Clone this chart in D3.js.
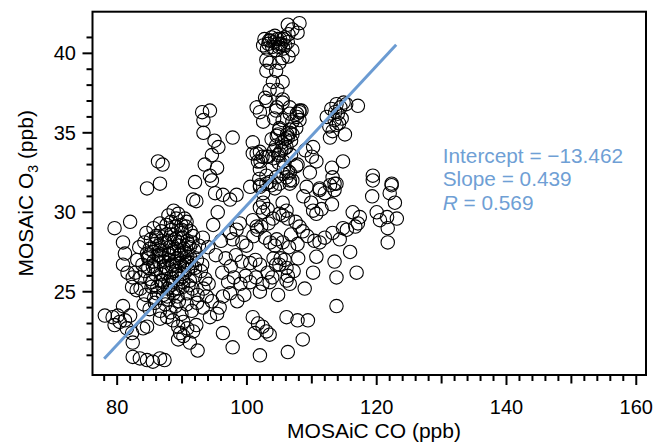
<!DOCTYPE html>
<html><head><meta charset="utf-8">
<script src="https://cdn.jsdelivr.net/npm/d3@7"></script>
<style>body{margin:0;background:#fff}svg{display:block}text{font-family:"Liberation Sans",Arial,sans-serif}</style>
</head><body>
<script>
// CO (ppb) values
const coValues = [
// low-left cluster and bottom row
78.1,79.6,80.1,81.2,80.9,82,81.5,82.3,82.4,84,79.3,80.4,84.6,
82.4,83.5,84.6,85.5,86.6,87.3,
// left column
79.6,82,80.9,81.2,80.9,81.6,82.4,82.3,83,84.6,86.3,87,86.6,
// main dense cluster
87.9,89.4,90.4,86.6,88.7,
84.5,85.6,86.8,87.6,88.3,89.1,89.9,90.6,91.3,88.9,90.1,91.7,86.1,
83.4,84.2,85,85.8,86.6,87.4,88.1,88.8,89.5,90.3,91,91.9,92.6,84.6,86.2,87.9,89.8,90.8,
83.1,83.9,84.8,85.5,86.4,87.2,88,88.6,89.3,90,90.7,91.5,92.3,93.1,86.9,89.7,
82.8,83.6,84.3,85.1,85.9,86.7,87.5,88.3,89,89.6,90.4,91.2,92,92.9,93.6,84.8,87.9,90.9,
83.6,84.4,85.3,86.1,86.9,87.7,88.6,89.3,90.1,90.8,91.6,92.4,93.3,94.1,85.7,88.2,
84.1,85,85.8,86.6,87.4,88.2,89,89.9,90.7,91.5,92.3,93.2,94.6,93.8,
86.6,87.7,88.6,89.4,90.2,91.7,89.7,90.2,89.4,91.2,92.4,92.2,90.8,
85.2,86,86.8,87.6,88.4,89.2,90,90.8,91.6,
85.6,86.4,87.2,88,88.8,89.6,90.4,91.2,
84.8,85.6,86.4,87.2,88,88.8,89.6,90.4,91.2,92,
86,86.8,87.6,88.4,89.2,90,90.8,
85.4,86.2,87,87.8,88.6,89.4,90.2,91,
88.3,89.1,89.9,90.7,
87.1,87.9,88.7,89.5,
// right of main cluster
93.2,94,97.4,98.4,97.8,100.9,101.5,95.1,96.3,97.4,98.4,95.5,94.8,96,95.2,96.7,97.5,98.3,99.2,98.9,99.3,99.9,100.5,101.3,102,96.2,97.1,98,99,99.8,100.5,101.4,102,104.8,96.3,97.4,95.4,95.8,94.3,96.3,97.8,98.5,99.6,
// low middle
100.9,101.7,102.4,101.2,103,103.5,106.1,107.8,109.4,108.6,102,106.3,113.8,
// below column
102,103,104.3,102,102.5,102.5,105.5,106.1,102.5,103.8,106.6,109.2,103.2,104,103.3,102.2,101.6,101,102.8,103.6,104.6,105.5,106.8,105,105.5,106.3,107.5,108.1,108.6,109.3,107.8,106.5,105.2,105.8,105,106.1,106.3,106.1,106.6,104.1,104.5,103.2,103.9,103.5,102.4,107.9,107.2,104.3,108.9,110.2,110.7,113.5,113.8,115.9,116.9,
// right scatter
111.2,112,112.8,113.5,113.8,113.1,119.3,119.4,122.3,122,122.8,120,120.5,121.6,123.1,121.7,121.7,116.3,117.4,117.1,116.7,115.4,114.8,113.2,114.3,110.4,111.2,112,110.7,111.5,109.9,111.2,113.1,113.2,113.5,109.7,119.4,122.3,114.8,108.7,110.2,
// vertical column
106.3,108.1,107.8,107,102.7,103.3,103.8,104.2,104.7,105.2,105.8,106.3,103.1,104.4,105.6,107,103,103.5,105,105.5,106.4,103,104.5,104,105.5,103.5,104.7,103,105.5,106.6,104.5,102,102.5,104.2,106.6,107.7,108.1,108.4,105,106.6,107.6,104.8,106.3,106.8,100.9,104.5,105.3,106.1,106.8,104.1,105.6,102,102.1,103.3,109,110.2,110,110.7,107.6,106.3,101.9,103,104.5,105.6,106.6,104.8,105.9,
102.5,103.6,104.9,105.9,102.8,101.5,105.5,104.6,107.7,108.1,105.5,107,108.1,105,106.6,107,
100.5,102,103.5,105,106.1,107,101.5,101.7,103,107.8,106.6,100.9,102.4,102,
103.8,104.6,105.4,106.2,104.2,105,105.8,104.9,105.7,103.4,104.3,105.1,103.9,104.8,105.6,106.4,
// cluster near 114
112.3,113,113.8,114.4,114.9,115.3,114,113.5,112.7,113.8,114.6,113.2,117.1,115.1,112.8,114.2,113.6,
// left of column
93.1,94.3,93.3,93.3,95,95.6,97.8,94.6,93.5,95.4,94.3,94.6,92,91.7,92.2
];
// O3 (ppb) values
const o3Values = [
23.5,22.9,23.5,23.2,24.1,23.5,22.7,22.4,21.8,22.7,23.4,23.1,22.8,
20.9,20.8,20.7,20.6,20.8,20.7,
29,29.4,28.1,27.4,26.7,26.2,25.9,25.3,25.1,31.5,33.2,33,31.8,
29.8,29.9,29.6,29.3,30.1,
28.7,29,28.8,29.2,28.6,29.1,28.9,29.1,28.8,28.3,28.4,28.5,28.4,
27.8,28.1,27.7,28,27.6,28.1,27.8,27.5,27.9,27.7,28,27.6,27.9,27.4,27.3,27.3,27.4,27.2,
27,26.7,27.1,26.6,26.9,26.6,27,26.7,27.1,26.6,26.9,26.6,27,26.7,27.2,26.8,
26.2,25.9,26.3,25.8,26.1,25.7,26.2,25.9,26.3,25.8,26.2,25.7,26,26.3,25.8,26.5,25.6,26.4,
25.2,24.8,25.3,24.9,25.4,24.7,25.1,24.7,25.3,24.9,25.2,24.8,25.2,25.5,24.6,25.4,
24.2,23.9,24.3,23.8,24.2,23.7,24.1,23.6,24.2,23.8,24.3,24,24.4,24.7,
23.3,23.4,23.2,22.8,23.1,22.5,22.4,22.2,22,21.8,21.3,22.9,22.7,
28.3,28.5,28.2,28.6,28.9,28.4,28.7,28.2,28.1,
27.5,27.9,27.6,28.2,27.7,28.1,27.5,27.8,
27.2,26.9,27.3,26.9,27.4,26.9,27.3,26.7,27.2,26.5,
26.4,26.1,26.5,26.6,26.1,25.9,26.8,
25.6,25.3,25.7,25.2,25.6,25.2,25.6,25.4,
29.4,29.6,29.2,29.4,
24.8,24.5,24.9,24.4,
28.4,27.8,28.7,28.9,28.3,29.5,29.1,31.2,31.1,30.8,31.1,30,29.2,28.2,27.3,27.1,26.6,27.3,26.9,29.3,28.1,27.9,26.8,27,26.7,26.2,25.6,25.9,25.5,26,25.6,25.9,25,24.8,24.7,24.9,23.6,24,23.4,22.4,21.5,24.4,24.8,
23.4,23,22.8,22.4,22.5,22.3,23.4,23.2,23.2,22,21,21.2,24.1,
31.6,31.8,31.5,30.3,30,30.6,30.6,30.1,31.2,31.7,31.8,31.6,30.2,29.6,29.3,29.1,28.9,28.5,28.4,28.1,28.3,28.1,28.6,29.9,29.8,29.6,29.4,29.1,28.8,28.5,28,27.8,27.1,27,26.7,26.5,26,25.7,25.5,27.1,26.7,26.2,25.9,25.6,25.5,27.1,26.3,27.9,25.2,26.2,27.2,26.9,25.9,27.5,26.2,
31.4,31.2,31.7,31.4,31.8,30.5,31,32,31.7,31.2,30.6,30,29.5,29.7,29.6,29,28.1,30,29.7,29.3,29.1,28.9,29,28.7,28.3,28.2,28.1,28.4,29.9,30.2,30.6,31.5,32.8,32.2,31.8,32.5,32.3,31.8,33.2,31,30.1,
41.8,41.9,41.3,41.5,40.9,40.6,41,40.7,40.9,40.6,41,40.7,40.3,40.2,40.3,40.2,39.6,39.4,39.4,39.7,39.8,38.9,38.9,38.2,38.2,37.7,37.7,37,36.9,36.6,36.4,36.3,35.7,35.9,36.2,36,36.3,36.4,35.3,35.2,35.3,34.9,34.7,34.5,34.4,34.2,33.9,34.1,33.6,33.4,33.2,33.8,33.2,33.5,33.9,34.1,33.5,33.2,32.9,32.6,32.1,32.3,32.2,32.4,32,33.6,34.6,
40.5,40.8,40.4,40.5,37.2,36.6,37.1,36.6,36.2,36.4,35.8,35.7,35.8,35.2,35,34.9,
31.6,31.7,31.9,31.8,32.2,32,33.7,33.2,33.5,33,32.5,33.7,33.5,32.7,
34.6,34.8,34.4,34.9,33.9,33.7,34,33.1,32.8,40.8,41.1,40.9,40.4,40.6,40.9,41.2,
36,36.5,36.8,36.6,36.9,36.8,36.2,35.8,35.4,35.5,35.9,35.1,36.7,34.9,34.7,35.6,36.3,
36.3,36.4,35.8,35,34.5,34.1,34.7,33.6,33,32.8,32.3,32,31.9,30.8,30.7
];
const xTickLabels = [80, 100, 120, 140, 160];
const yTickLabels = [25, 30, 35, 40];
const fit = {intercept: -13.462, slope: 0.439, r: 0.569, xStart: 78, xEnd: 123};
const statLines = ["Intercept = \u221213.462", "Slope = 0.439", "R = 0.569"];

const W = 655, H = 444;
const L = 92.5, R = 646, T = 11.7, B = 375;
const svg = d3.select("body").append("svg").attr("width", W).attr("height", H);
const x = d3.scaleLinear().domain([76.2, 161.5]).range([L, R]);
const y = d3.scaleLinear().domain([19.76, 42.62]).range([B, T]);

const n = Math.min(coValues.length, o3Values.length);
const pts = d3.range(n).map(i => [coValues[i], o3Values[i]]);
svg.append("g").selectAll("circle").data(pts).join("circle")
  .attr("cx", d => x(d[0])).attr("cy", d => y(d[1])).attr("r", 6.7)
  .attr("fill", "none").attr("stroke", "#000").attr("stroke-width", 1.1);

// fit line
svg.append("line")
  .attr("x1", x(fit.xStart)).attr("y1", y(fit.intercept + fit.slope * fit.xStart))
  .attr("x2", x(fit.xEnd)).attr("y2", y(fit.intercept + fit.slope * fit.xEnd))
  .attr("stroke", "#6b9bd2").attr("stroke-width", 3);

// frame
svg.append("rect").attr("x", L).attr("y", T).attr("width", R - L).attr("height", B - T)
  .attr("fill", "none").attr("stroke", "#000").attr("stroke-width", 2);

// bottom axis
const xMinor = d3.range(78, 161, 2);
const gx = svg.append("g").attr("transform", `translate(0,${B})`);
gx.selectAll("line").data(xMinor).join("line")
  .attr("x1", d => x(d)).attr("x2", d => x(d)).attr("y1", 0)
  .attr("y2", d => d % 20 === 0 ? 10 : (d % 10 === 0 ? 8.5 : 6))
  .attr("stroke", "#000").attr("stroke-width", 2);
gx.selectAll("text").data(xTickLabels).join("text")
  .attr("x", d => x(d)).attr("y", 38.5).attr("text-anchor", "middle")
  .attr("font-size", 20).text(d => d);

// left axis
const yMinor = d3.range(21, 42, 1);
const gy = svg.append("g").attr("transform", `translate(${L},0)`);
gy.selectAll("line").data(yMinor).join("line")
  .attr("y1", d => y(d)).attr("y2", d => y(d)).attr("x1", 0)
  .attr("x2", d => d % 5 === 0 ? -10 : -6)
  .attr("stroke", "#000").attr("stroke-width", 2);
gy.selectAll("text").data(yTickLabels).join("text")
  .attr("x", -16.5).attr("y", d => y(d) + 7).attr("text-anchor", "end")
  .attr("font-size", 20).text(d => d);

// axis titles
svg.append("text").attr("x", 374).attr("y", 438).attr("text-anchor", "middle")
  .attr("font-size", 21).text("MOSAiC CO (ppb)");
const yt = svg.append("text").attr("transform", `translate(33,${(T + B) / 2}) rotate(-90)`)
  .attr("text-anchor", "middle").attr("font-size", 21);
yt.append("tspan").text("MOSAiC O");
yt.append("tspan").attr("font-size", 14).attr("dy", 5).text("3");
yt.append("tspan").attr("dy", -5).text(" (ppb)");

// stats
const st = svg.append("g").attr("fill", "#6f9fd5").attr("font-size", 20.8);
st.append("text").attr("x", 442.7).attr("y", 162.7).text(statLines[0]);
st.append("text").attr("x", 442.7).attr("y", 186.3).text(statLines[1]);
const rt = st.append("text").attr("x", 442.7).attr("y", 209.9);
rt.append("tspan").attr("font-style", "italic").text("R");
rt.append("tspan").text(statLines[2].slice(1));
</script>
</body></html>
